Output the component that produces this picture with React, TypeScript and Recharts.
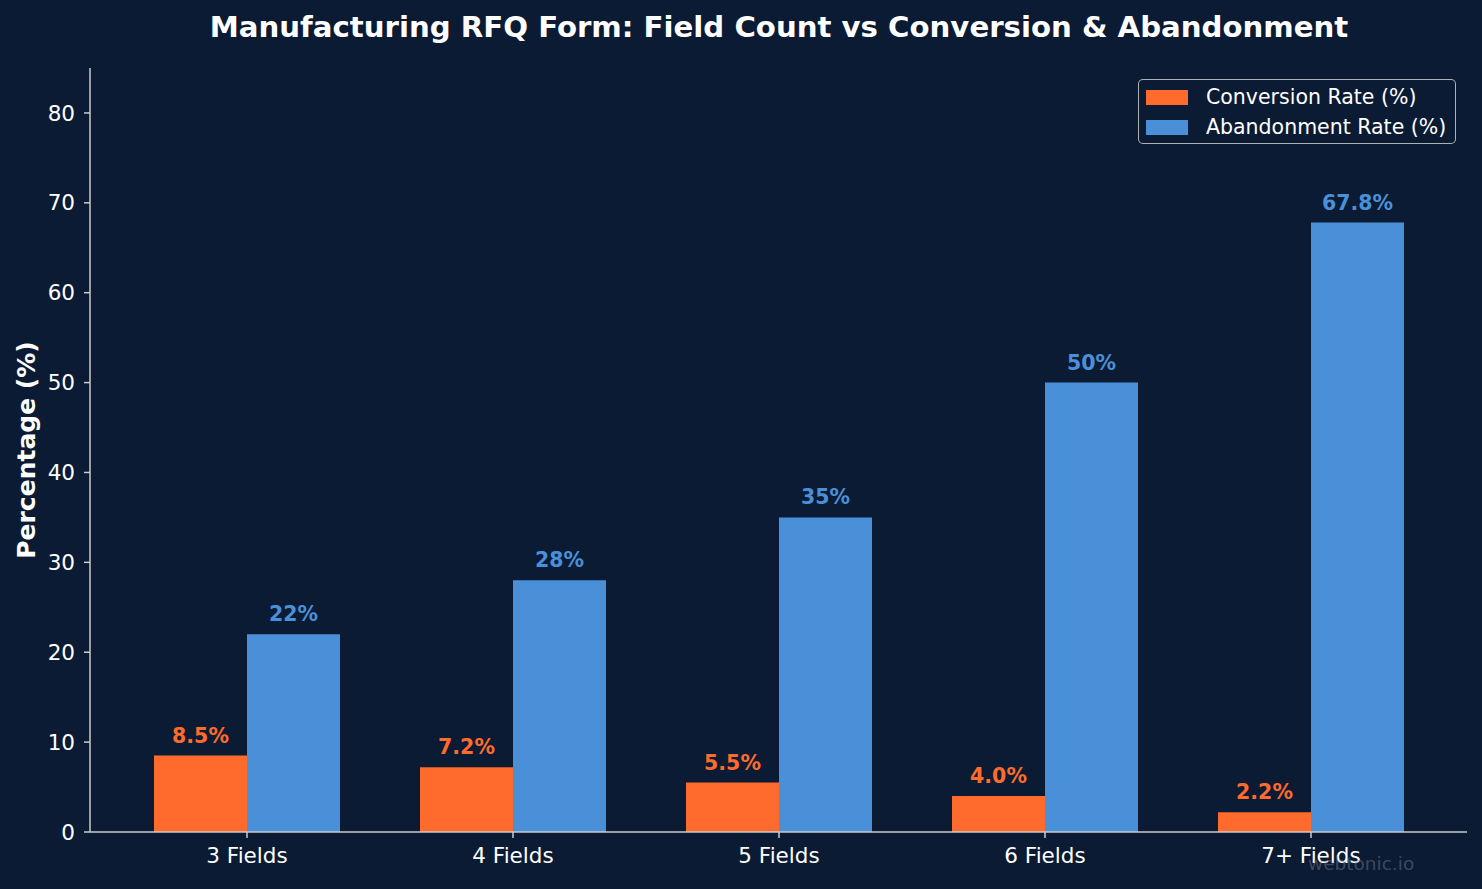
import { BarChart, Bar, XAxis, YAxis, LabelList } from 'recharts'

const CATEGORIES = ['3 Fields', '4 Fields', '5 Fields', '6 Fields', '7+ Fields']
const CONVERSION = [8.5, 7.2, 5.5, 4.0, 2.2]
const ABANDONMENT = [22, 28, 35, 50, 67.8]
const Y_TICKS = [0, 10, 20, 30, 40, 50, 60, 70, 80]

const BG = '#0b1b33'
const ORANGE = '#ff6b2c'
const BLUE = '#4a90d9'
const AXIS = '#cccccc'
const FONT = '"DejaVu Sans", sans-serif'

const data = CATEGORIES.map((name, i) => ({
  name,
  conversion: CONVERSION[i],
  abandonment: ABANDONMENT[i],
}))

const LEGEND_ITEMS = [
  { label: 'Conversion Rate (%)', color: ORANGE },
  { label: 'Abandonment Rate (%)', color: BLUE },
]

function LegendBox() {
  return (
    <div
      style={{
        position: 'absolute',
        left: 1138,
        top: 79,
        width: 316,
        height: 63,
        border: '1.5px solid rgba(204,204,204,0.85)',
        borderRadius: 5,
        background: BG,
        fontFamily: FONT,
      }}
    >
      {LEGEND_ITEMS.map((it, i) => (
        <div
          key={it.label}
          style={{ position: 'absolute', left: 0, top: 2 + i * 30, height: 30, display: 'flex', alignItems: 'center' }}
        >
          <span style={{ display: 'inline-block', marginLeft: 7, width: 42, height: 15, background: it.color }} />
          <span style={{ marginLeft: 18, color: '#ffffff', fontSize: 20.5, whiteSpace: 'nowrap' }}>{it.label}</span>
        </div>
      ))}
    </div>
  )
}

export default function App() {
  return (
    <div style={{ position: 'absolute', left: 0, top: 0, width: 1482, height: 889, background: BG, fontFamily: FONT }}>
      <BarChart
        width={1482}
        height={889}
        data={data}
        margin={{ top: 68, right: 15, left: 30, bottom: 27 }}
        barGap={0}
      >
        <XAxis
          dataKey="name"
          padding={{ left: 24, right: 23 }}
          height={30}
          tickSize={6}
          tickMargin={10}
          stroke={AXIS}
          tick={{ fill: '#ffffff', fontSize: 21.5, fontFamily: FONT }}
          axisLine={{ stroke: AXIS, strokeWidth: 1.5 }}
          tickLine={{ stroke: AXIS, strokeWidth: 1.5 }}
        />
        <YAxis
          domain={[0, 85]}
          ticks={Y_TICKS}
          width={60}
          tickSize={6}
          tickMargin={9}
          stroke={AXIS}
          tick={{ fill: '#ffffff', fontSize: 21.5, fontFamily: FONT }}
          axisLine={{ stroke: AXIS, strokeWidth: 1.5 }}
          tickLine={{ stroke: AXIS, strokeWidth: 1.5 }}
        />
        <Bar dataKey="conversion" name="Conversion Rate (%)" fill={ORANGE} barSize={93} isAnimationActive={false}>
          <LabelList
            dataKey="conversion"
            position="top"
            offset={13}
            formatter={(v: any) => `${Number(v).toFixed(1)}%`}
            fill={ORANGE}
            fontSize={20.5}
            fontWeight="bold"
            fontFamily={FONT}
          />
        </Bar>
        <Bar dataKey="abandonment" name="Abandonment Rate (%)" fill={BLUE} barSize={93} isAnimationActive={false}>
          <LabelList
            dataKey="abandonment"
            position="top"
            offset={13}
            formatter={(v: any) => `${Number(v)}%`}
            fill={BLUE}
            fontSize={20.5}
            fontWeight="bold"
            fontFamily={FONT}
          />
        </Bar>
      </BarChart>
      <LegendBox />
      <svg
        width={1482}
        height={889}
        style={{ position: 'absolute', left: 0, top: 0, pointerEvents: 'none' }}
      >
        <text x={779} y={37} textAnchor="middle" fill="#ffffff" fontSize={29.2} fontWeight="bold" fontFamily={FONT}>
          Manufacturing RFQ Form: Field Count vs Conversion &amp; Abandonment
        </text>
        <text
          x={35}
          y={450}
          transform="rotate(-90 35 450)"
          textAnchor="middle"
          fill="#ffffff"
          fontSize={25}
          fontWeight="bold"
          fontFamily={FONT}
        >
          Percentage (%)
        </text>
        <text x={1308} y={870} fill="#7d8490" fillOpacity={0.45} fontSize={18.5} fontFamily={FONT}>
          webtonic.io
        </text>
      </svg>
    </div>
  )
}
